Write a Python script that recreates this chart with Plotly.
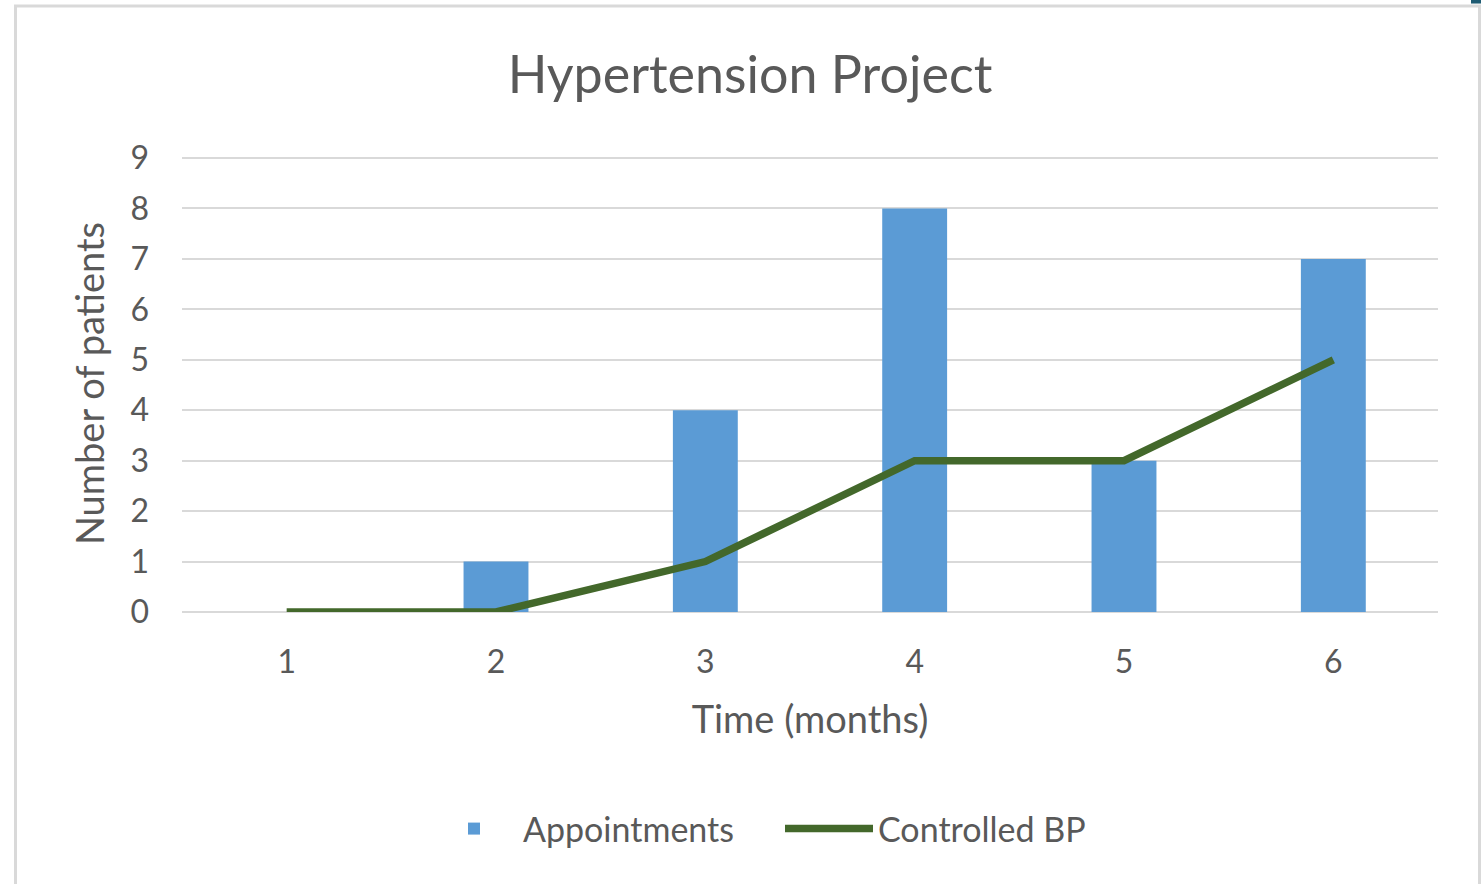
import plotly.graph_objects as go

months = ["1", "2", "3", "4", "5", "6"]
appointments = [0, 1, 4, 8, 3, 7]
controlled_bp = [0, 0, 1, 3, 3, 5]
y_ticks = [0, 1, 2, 3, 4, 5, 6, 7, 8, 9]

W, H = 1481, 884
Y_TOP = 9.06
# pixel layout of the plot area
X0, X1, Y9, Y0 = 182, 1438, 158, 612
unit = (Y0 - Y9) / 9
L, R = X0, W - X1
T = Y9 - (Y_TOP - 9) * unit
B = H - Y0
pw, ph = W - L - R, H - T - B

def px_x(x):
    return (x - L) / pw

def px_y(y):
    return 1 - (y - T) / ph

FONT = "Lato, 'Open Sans', sans-serif"
GRAY = "#595959"

fig = go.Figure()
fig.add_trace(go.Bar(
    x=months, y=appointments, name="Appointments",
    marker=dict(color="#5B9BD5", line=dict(width=0)),
    width=0.31,
))
fig.add_trace(go.Scatter(
    x=months, y=controlled_bp, name="Controlled BP", mode="lines",
    line=dict(color="#43682B", width=7.5),
))

fig.update_layout(
    width=W, height=H,
    margin=dict(l=L, r=R, t=T, b=B, autoexpand=False),
    paper_bgcolor="white", plot_bgcolor="white",
    font=dict(family=FONT, color=GRAY),
    title=dict(text="Hypertension Project", x=px_x(750), xanchor="center",
               xref="paper", y=1 - 75 / H, yanchor="middle",
               font=dict(size=52, color=GRAY, family=FONT)),
    showlegend=True,
    legend=dict(orientation="h", x=px_x(425), xanchor="left",
                y=px_y(829), yanchor="middle",
                font=dict(size=34, color=GRAY), itemwidth=88,
                entrywidth=252, entrywidthmode="pixels",
                traceorder="normal"),
    xaxis=dict(
        type="category", showgrid=False, zeroline=False, showline=False,
        ticks="", tickfont=dict(size=32, color=GRAY),
        ticklabelstandoff=28,
        title=dict(text="Time (months)", font=dict(size=38, color=GRAY),
                   standoff=27),
    ),
    yaxis=dict(
        range=[0, Y_TOP], tickvals=y_ticks, ticktext=[str(v) for v in y_ticks],
        showgrid=True, gridcolor="#D9D9D9", gridwidth=2,
        zeroline=True, zerolinecolor="#D9D9D9", zerolinewidth=2,
        showline=False, ticks="", tickfont=dict(size=32, color=GRAY),
        ticklabelstandoff=32,
        title=dict(text="Number of patients", font=dict(size=38, color=GRAY),
                   standoff=14),
    ),
    bargap=0.69,
)

# chart border
fig.add_shape(type="rect", xref="paper", yref="paper",
              x0=px_x(15.5), x1=px_x(1479.5), y0=px_y(6), y1=px_y(900),
              line=dict(color="#D9D9D9", width=3), fillcolor="rgba(0,0,0,0)",
              layer="below")
# small corner mark
fig.add_shape(type="rect", xref="paper", yref="paper",
              x0=px_x(1471), x1=px_x(1482), y0=px_y(-1), y1=px_y(3.5),
              line=dict(width=0), fillcolor="#1F5C73")

fig.write_html(
    "out.html",
    config={"displayModeBar": False},
    post_script="document.body.style.margin='0';document.body.style.overflow='hidden';",
)
